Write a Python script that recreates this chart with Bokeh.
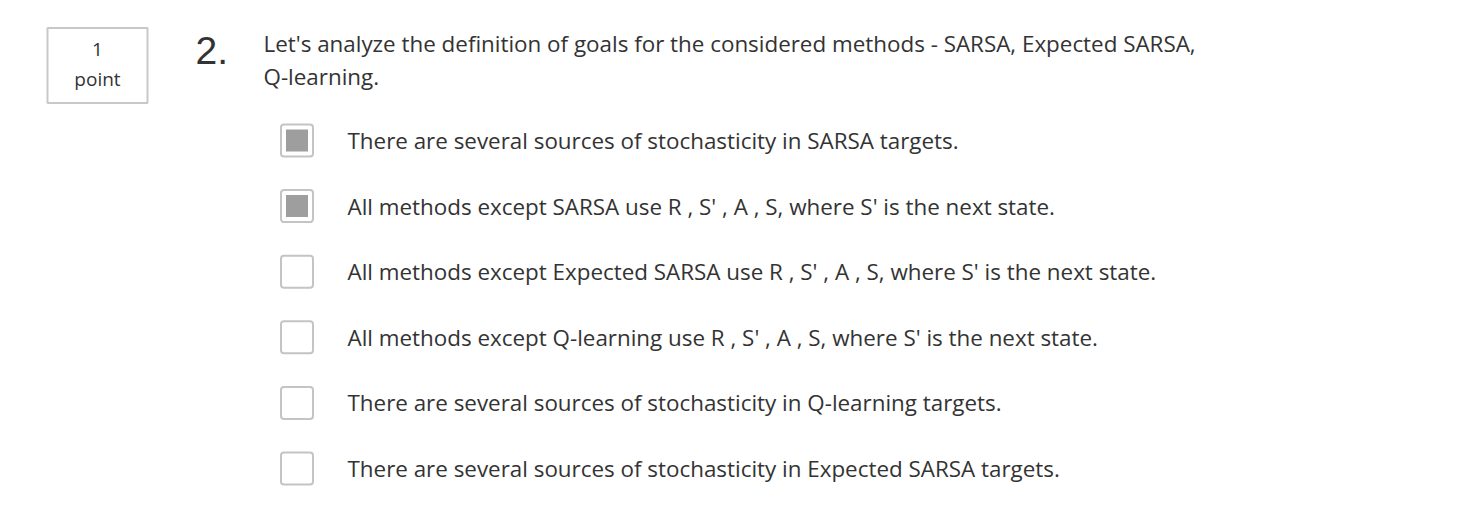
from bokeh.plotting import figure
from bokeh.models import Range1d
from bokeh.core.properties import value
from bokeh.embed import file_html
from bokeh.resources import INLINE

question_number = "2."
points = ["1", "point"]
question_lines = ["Let's analyze the definition of goals for the considered methods - SARSA, Expected SARSA,",
                  "Q-learning."]
options = [
    "There are several sources of stochasticity in SARSA targets.",
    "All methods except SARSA use R , S' , A , S, where S' is the next state.",
    "All methods except Expected SARSA use R , S' , A , S, where S' is the next state.",
    "All methods except Q-learning use R , S' , A , S, where S' is the next state.",
    "There are several sources of stochasticity in Q-learning targets.",
    "There are several sources of stochasticity in Expected SARSA targets.",
]
checked = [True, True, False, False, False, False]

W, H = 1442, 516
p = figure(width=W, height=H, output_backend="svg", toolbar_location=None,
           x_range=Range1d(0, W), y_range=Range1d(H, 0),
           min_border=0, outline_line_color=None)
p.axis.visible = False
p.grid.visible = False

FONT = value("Open Sans")
C = "#333333"
# point box
p.rect(x=[97], y=[65], width=100, height=75, fill_color="white",
       line_color="#c8c8c8", line_width=2)
p.text(x=[97, 97], y=[49, 78], text=points, text_font=FONT, text_font_size="19px",
       text_align="center", text_baseline="middle", text_color=C)
p.text(x=[195], y=[50], text=[question_number], text_font=value("Liberation Sans"),
       text_font_size="39px", text_align="left", text_baseline="middle", text_color=C)
p.text(x=[263, 263], y=[43, 76], text=question_lines, text_font=FONT, text_font_size="22.4px",
       text_align="left", text_baseline="middle", text_color=C)

ys = [140 + 65.6 * i for i in range(len(options))]
p.rect(x=[296.5] * len(ys), y=ys, width=32, height=32, fill_color="white",
       line_color="#c4c4c4", line_width=2, border_radius=3)
cy = [y for y, c in zip(ys, checked) if c]
p.rect(x=[296.5] * len(cy), y=cy, width=22, height=22, fill_color="#9e9e9e", line_color=None)
p.text(x=[347] * len(ys), y=ys, text=options, text_font=FONT, text_font_size="22.4px",
       text_align="left", text_baseline="middle", text_color=C)

open("out.html", "w").write(file_html(p, INLINE))
